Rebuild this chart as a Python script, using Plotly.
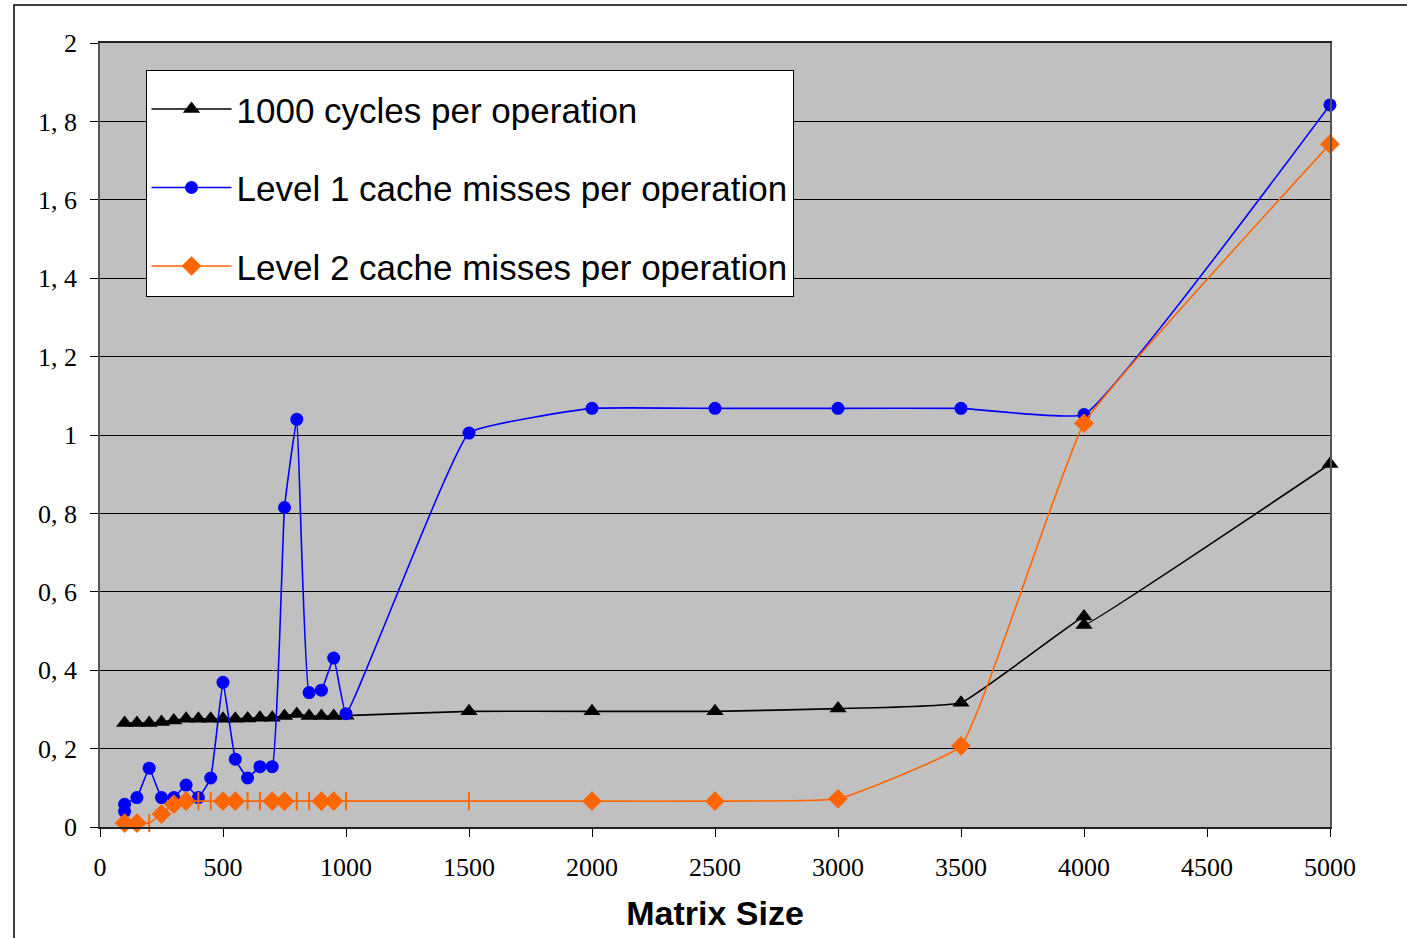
import plotly.graph_objects as go

# ---- data ----
cycles_x = [100, 150, 200, 250, 300, 350, 400, 450, 500, 550, 600, 650, 700, 750, 800,
            850, 900, 950, 1000, 1500, 2000, 2500, 3000, 3500, 4000, 4000, 5000]
cycles_y = [0.265, 0.265, 0.265, 0.268, 0.272, 0.276, 0.276, 0.276, 0.276, 0.276, 0.277,
            0.279, 0.279, 0.283, 0.288, 0.283, 0.283, 0.283, 0.284, 0.295, 0.295, 0.295,
            0.302, 0.317, 0.537, 0.515, 0.926]

l1_x = [100, 100, 150, 200, 250, 300, 350, 400, 450, 500, 550, 600, 650, 700, 750, 800,
        850, 900, 950, 1000, 1500, 2000, 2500, 3000, 3500, 4000, 5000]
l1_y = [0.04, 0.058, 0.075, 0.15, 0.075, 0.075, 0.107, 0.075, 0.125, 0.369, 0.173, 0.125,
        0.154, 0.154, 0.815, 1.04, 0.343, 0.349, 0.431, 0.289, 1.005, 1.068, 1.068, 1.068,
        1.068, 1.052, 1.842]

l2_x = [100, 150, 200, 250, 300, 350, 400, 450, 500, 550, 600, 650, 700, 750, 800, 850,
        900, 950, 1000, 1500, 2000, 2500, 3000, 3500, 4000, 5000]
l2_y = [0.01, 0.01, 0.01, 0.033, 0.058, 0.066, 0.066, 0.066, 0.066, 0.066, 0.066, 0.066,
        0.066, 0.066, 0.066, 0.066, 0.066, 0.066, 0.066, 0.066, 0.066, 0.066, 0.072,
        0.207, 1.03, 1.742]

names = ["1000 cycles per operation",
         "Level 1 cache misses per operation",
         "Level 2 cache misses per operation"]

x_ticks = [0, 500, 1000, 1500, 2000, 2500, 3000, 3500, 4000, 4500, 5000]
y_ticks = [0, 0.2, 0.4, 0.6, 0.8, 1.0, 1.2, 1.4, 1.6, 1.8, 2.0]
y_ticktext = ["0", "0, 2", "0, 4", "0, 6", "0, 8", "1", "1, 2", "1, 4", "1, 6", "1, 8", "2"]

# ---- style ----
l2_symbols = ["diamond", "diamond", "line-ns", "diamond", "diamond", "diamond", "line-ns",
              "line-ns", "diamond", "diamond", "line-ns", "line-ns", "diamond", "diamond",
              "line-ns", "line-ns", "diamond", "diamond", "line-ns", "line-ns", "diamond",
              "diamond", "diamond", "diamond", "diamond", "diamond"]

fig = go.Figure()
fig.add_trace(go.Scatter(
    x=cycles_x, y=cycles_y, name=names[0], mode="lines+markers", legendgroup="a",
    cliponaxis=False,
    line=dict(color="black", width=1.6, shape="spline", smoothing=0.3),
    marker=dict(symbol="triangle-up", size=15, color="black")))
fig.add_trace(go.Scatter(
    x=l1_x, y=l1_y, name=names[1], mode="lines+markers", legendgroup="b",
    cliponaxis=False,
    line=dict(color="#0000FF", width=1.6, shape="spline", smoothing=0.3),
    marker=dict(symbol="circle", size=13, color="#0000FF")))
fig.add_trace(go.Scatter(
    x=l2_x, y=l2_y, name=names[2], mode="lines+markers", legendgroup="c",
    cliponaxis=False,
    line=dict(color="#FF6600", width=1.6, shape="spline", smoothing=0.3),
    marker=dict(symbol=l2_symbols, size=13, color="#FF6600",
                line=dict(color="#FF6600", width=2))))

fig.update_layout(
    width=1407, height=938,
    margin=dict(l=100, r=77, t=43, b=111),
    paper_bgcolor="white", plot_bgcolor="#C0C0C0",
    showlegend=True,
    legend=dict(x=0.037, y=0.966, xanchor="left", yanchor="top",
                bgcolor="white", bordercolor="black", borderwidth=1,
                font=dict(family="Liberation Sans, Arial", size=35, color="black"),
                title=dict(text=" ", font=dict(size=7)),
                tracegroupgap=30, itemwidth=80),
    xaxis=dict(range=[0, 5000], tickvals=x_ticks, ticks="outside", ticklen=8,
               tickcolor="black", showgrid=False, zeroline=False,
               showline=True, linecolor="#222", linewidth=2, mirror=True,
               ticklabelstandoff=8,
               tickfont=dict(family="Liberation Serif, Times New Roman", size=26, color="black"),
               title=dict(text="<b>Matrix Size</b>", standoff=20,
                          font=dict(family="Liberation Sans, Arial", size=34, color="black"))),
    yaxis=dict(range=[0, 2], tickvals=y_ticks, ticktext=y_ticktext, ticks="outside",
               ticklen=8, tickcolor="black", showgrid=True, gridcolor="black", gridwidth=1,
               zeroline=False, showline=True, linecolor="#555", linewidth=1.5, mirror=True,
               ticklabelstandoff=8,
               tickfont=dict(family="Liberation Serif, Times New Roman", size=26, color="black")),
)

# outer chart frame
fig.add_shape(type="rect", xref="paper", yref="paper",
              x0=-86 / 1230, x1=1330 / 1230, y0=-150 / 784, y1=1 + 38 / 784,
              line=dict(color="black", width=1.5), fillcolor="rgba(0,0,0,0)", layer="below")

fig.write_html("out.html")
